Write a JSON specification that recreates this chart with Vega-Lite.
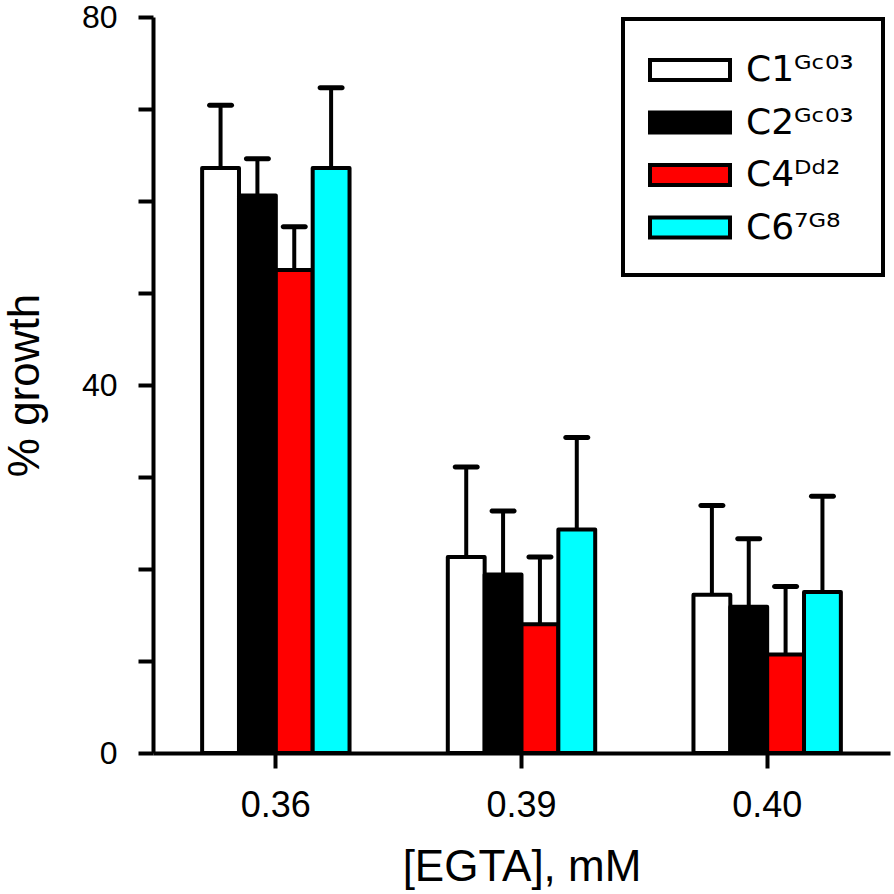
{
  "$schema": "https://vega.github.io/schema/vega-lite/v6.json",
  "width": 737,
  "height": 736,
  "autosize": {"type": "none"},
  "padding": {"left": 153, "top": 17, "right": 4, "bottom": 141},
  "background": "white",
  "config": {
    "view": {"stroke": null},
    "font": "Liberation Sans",
    "axis": {
      "domainColor": "black", "domainWidth": 4, "tickColor": "black", "tickWidth": 4, "tickSize": 15,
      "labelColor": "black", "titleColor": "black", "labelFontSize": 35, "titleFontSize": 44,
      "titleFontWeight": "normal", "grid": false, "labelFont": "Liberation Sans", "titleFont": "Liberation Sans"
    }
  },
  "data": {
    "values": [
      {"egta": "0.36", "strain": "C1", "value": 63.6, "upper": 70.4},
      {"egta": "0.36", "strain": "C2", "value": 60.6, "upper": 64.6},
      {"egta": "0.36", "strain": "C4", "value": 52.5, "upper": 57.2},
      {"egta": "0.36", "strain": "C6", "value": 63.6, "upper": 72.3},
      {"egta": "0.39", "strain": "C1", "value": 21.3, "upper": 31.1},
      {"egta": "0.39", "strain": "C2", "value": 19.4, "upper": 26.3},
      {"egta": "0.39", "strain": "C4", "value": 14.0, "upper": 21.3},
      {"egta": "0.39", "strain": "C6", "value": 24.3, "upper": 34.3},
      {"egta": "0.40", "strain": "C1", "value": 17.2, "upper": 26.9},
      {"egta": "0.40", "strain": "C2", "value": 15.9, "upper": 23.3},
      {"egta": "0.40", "strain": "C4", "value": 10.7, "upper": 18.1},
      {"egta": "0.40", "strain": "C6", "value": 17.5, "upper": 27.9}
    ]
  },
  "encoding": {
    "x": {
      "field": "egta", "type": "nominal",
      "scale": {"paddingInner": 0.4, "paddingOuter": 0.2},
      "axis": {"title": "[EGTA], mM", "labelAngle": 0, "labelFontSize": 36, "labelPadding": 20, "titlePadding": 22}
    },
    "xOffset": {"field": "strain", "type": "nominal", "sort": ["C1", "C2", "C4", "C6"], "scale": {"paddingInner": 0, "paddingOuter": 0}}
  },
  "layer": [
    {
      "mark": {"type": "bar", "stroke": "black", "strokeWidth": 4, "strokeJoin": "round"},
      "encoding": {
        "y": {
          "field": "value", "type": "quantitative",
          "scale": {"domain": [0, 80], "nice": false},
          "axis": {
            "title": "% growth", "values": [0, 10, 20, 30, 40, 50, 60, 70, 80],
            "labelExpr": "datum.value % 40 == 0 ? datum.label : ''",
            "labelFontSize": 32, "labelPadding": 21, "titlePadding": 34
          }
        },
        "fill": {
          "field": "strain", "type": "nominal",
          "scale": {"domain": ["C1", "C2", "C4", "C6"], "range": ["white", "black", "red", "cyan"]},
          "legend": {
            "title": null, "orient": "none", "legendX": 470, "legendY": 2,
            "symbolType": "M-2,-0.5L2,-0.5L2,0.5L-2,0.5Z", "symbolSize": 1600,
            "symbolStrokeColor": "black", "symbolStrokeWidth": 4, "symbolOffset": 16,
            "labelFontSize": 36, "labelColor": "black", "labelFont": "DejaVu Sans", "labelOffset": 34,
            "labelExpr": "datum.value == 'C1' ? 'C1ᴳᶜ⁰³' : datum.value == 'C2' ? 'C2ᴳᶜ⁰³' : datum.value == 'C4' ? 'C4ᴰᵈ²' : 'C6⁷ᴳ⁸'",
            "rowPadding": 12.5, "padding": 29, "strokeColor": "black",
            "encode": {"legend": {"update": {"strokeWidth": {"value": 4}}}}
          }
        }
      }
    },
    {
      "mark": {"type": "rule", "strokeWidth": 4, "color": "black"},
      "encoding": {
        "y": {"field": "value", "type": "quantitative"},
        "y2": {"field": "upper"}
      }
    },
    {
      "mark": {"type": "tick", "thickness": 5, "size": 27, "color": "black", "opacity": 1, "cornerRadius": 2.5},
      "encoding": {
        "y": {"field": "upper", "type": "quantitative"}
      }
    }
  ]
}
